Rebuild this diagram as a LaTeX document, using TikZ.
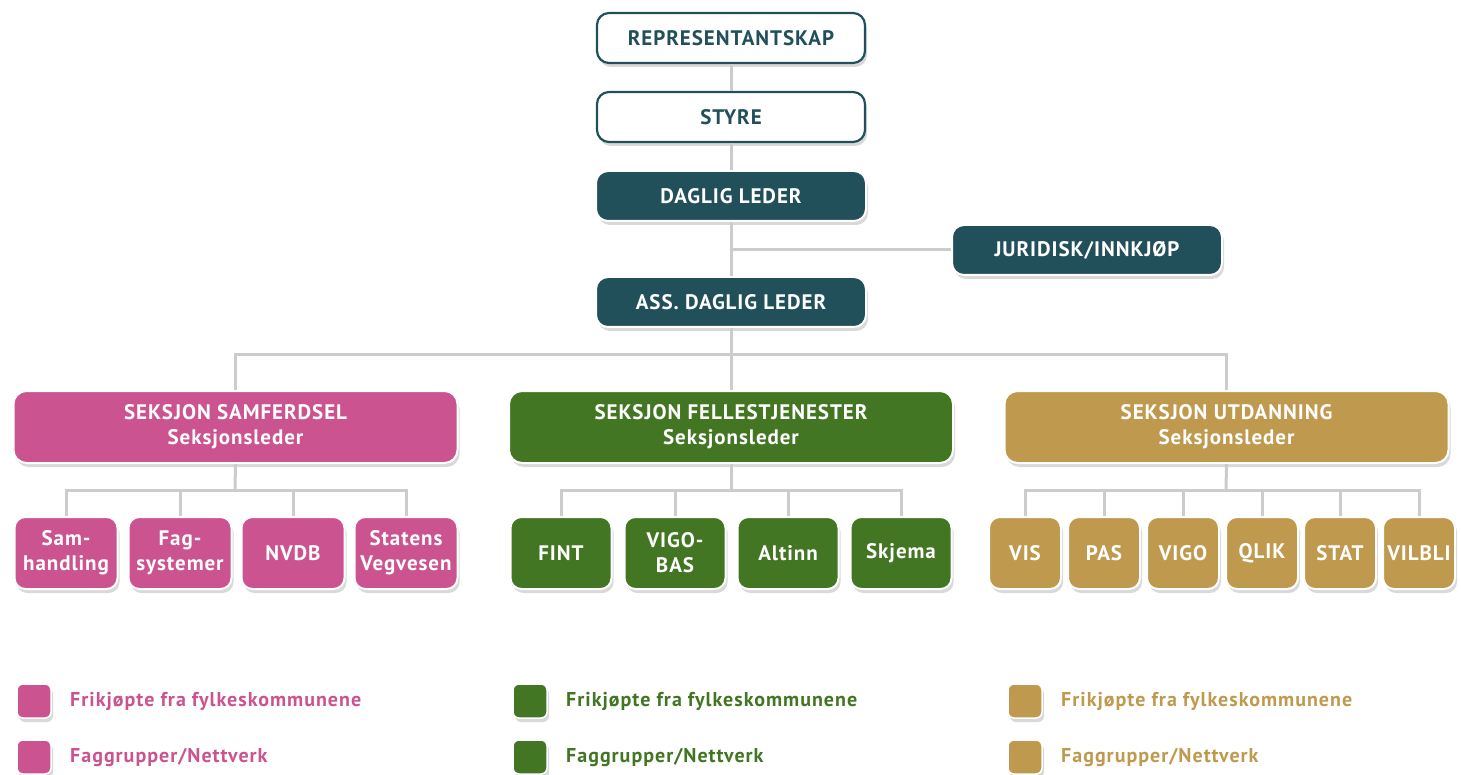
\documentclass[tikz,border=0pt]{standalone}
\usepackage{fontspec}
\setmainfont{PT Sans}
\newfontfamily\wideb[LetterSpace=4.5]{PT Sans}
\newfontfamily\widel[LetterSpace=5]{PT Sans}
\usetikzlibrary{shadows}
\definecolor{teal}{HTML}{22505A}
\definecolor{pinkc}{HTML}{CB5490}
\definecolor{greenc}{HTML}{437623}
\definecolor{goldc}{HTML}{BF9A4E}
\definecolor{linec}{HTML}{CCCCCC}
\tikzset{
  shad/.style={drop shadow={shadow xshift=2pt,shadow yshift=-4pt,opacity=0.25,fill=black!60}},
  topbox/.style={shad,draw=teal,line width=2.2pt,fill=white,rounded corners=12pt,minimum width=268pt,minimum height=50pt,inner sep=0pt,font=\wideb\fontsize{21}{25}\selectfont\bfseries,text=teal},
  leadbox/.style={shad,draw=white,line width=2pt,fill=teal,rounded corners=12pt,minimum width=270pt,minimum height=50pt,inner sep=0pt,font=\wideb\fontsize{21}{25}\selectfont\bfseries,text=white},
  secbox/.style={shad,draw=white,line width=2pt,rounded corners=13pt,minimum width=444pt,minimum height=72pt,inner sep=0pt,align=center,font=\wideb\fontsize{21}{25}\selectfont\bfseries,text=white},
  smallbox/.style={shad,draw=white,line width=2pt,rounded corners=11pt,minimum width=103pt,minimum height=72pt,inner sep=0pt,align=center,font=\wideb\fontsize{21}{25}\selectfont\bfseries,text=white},
  tinybox/.style={smallbox,minimum width=72pt},
  conn/.style={draw=linec,line width=3pt},
  legsq/.style={shad,draw=white,line width=1.5pt,rounded corners=6pt,minimum width=34pt,minimum height=34pt,inner sep=0pt},
  legtxt/.style={anchor=west,inner sep=0pt,font=\widel\fontsize{20}{24}\selectfont\bfseries}
}
\begin{document}
\begin{tikzpicture}[x=1pt,y=-1pt]
\useasboundingbox (0,0) rectangle (1461,775);
\coordinate (bus0) at (731,355);
\coordinate (busS) at (235,490);
\coordinate (busF) at (731,490);
\coordinate (busU) at (1226,490);
% top nodes
\node[topbox] (rep) at (731,38) {REPRESENTANTSKAP};
\node[topbox] (sty) at (731,117) {STYRE};
\node[leadbox] (dl) at (731,196) {DAGLIG LEDER};
\node[leadbox] (jur) at (1087,250) {JURIDISK/INNKJØP};
\node[leadbox] (ass) at (731,302) {ASS. DAGLIG LEDER};
% sections
\node[secbox,fill=pinkc] (sam) at (235.5,427) {SEKSJON SAMFERDSEL\\Seksjonsleder};
\node[secbox,fill=greenc] (fel) at (731,427) {SEKSJON FELLESTJENESTER\\Seksjonsleder};
\node[secbox,fill=goldc] (utd) at (1226.5,427) {SEKSJON UTDANNING\\Seksjonsleder};
% samferdsel subs
\node[smallbox,fill=pinkc] (s1) at (66,553) {Sam-\\handling};
\node[smallbox,fill=pinkc] (s2) at (180,553) {Fag-\\systemer};
\node[smallbox,fill=pinkc] (s3) at (293,553) {NVDB};
\node[smallbox,fill=pinkc] (s4) at (406,553) {Statens\\Vegvesen};
% fellestjenester subs
\node[smallbox,fill=greenc,minimum width=101pt] (f1) at (561,553) {FINT};
\node[smallbox,fill=greenc,minimum width=101pt] (f2) at (675,553) {VIGO-\\BAS};
\node[smallbox,fill=greenc,minimum width=101pt] (f3) at (788,553) {Altinn};
\node[smallbox,fill=greenc,minimum width=101pt] (f4) at (901,553) {Skjema};
% utdanning subs
\node[tinybox,fill=goldc] (u1) at (1025,553) {VIS};
\node[tinybox,fill=goldc] (u2) at (1104,553) {PAS};
\node[tinybox,fill=goldc] (u3) at (1183,553) {VIGO};
\node[tinybox,fill=goldc] (u4) at (1262,553) {QLIK};
\node[tinybox,fill=goldc] (u5) at (1340,553) {STAT};
\node[tinybox,fill=goldc] (u6) at (1419,553) {VILBLI};
% connectors
\draw[conn] (rep.south) -- (sty.north);
\draw[conn] (sty.south) -- (dl.north);
\draw[conn] (dl.south) -- (ass.north);
\draw[conn] (jur.west) -- (jur.west -| dl.south);
\draw[conn] (ass.south) -- (bus0);
\draw[conn] (bus0) -| (sam.north);
\draw[conn] (bus0) -| (utd.north);
\draw[conn] (bus0) -- (fel.north);
\draw[conn] (sam.south) -- (busS);
\draw[conn] (busS) -| (s1.north);
\draw[conn] (busS) -| (s2.north);
\draw[conn] (busS) -| (s3.north);
\draw[conn] (busS) -| (s4.north);
\draw[conn] (fel.south) -- (busF);
\draw[conn] (busF) -| (f1.north);
\draw[conn] (busF) -| (f2.north);
\draw[conn] (busF) -| (f3.north);
\draw[conn] (busF) -| (f4.north);
\draw[conn] (utd.south) -- (busU);
\draw[conn] (busU) -| (u1.north);
\draw[conn] (busU) -| (u2.north);
\draw[conn] (busU) -| (u3.north);
\draw[conn] (busU) -| (u4.north);
\draw[conn] (busU) -| (u5.north);
\draw[conn] (busU) -| (u6.north);
% legend
\node[legsq,fill=pinkc] (lp1) at (34,701) {};
\node[legsq,fill=pinkc] (lp2) at (34,757) {};
\node[legtxt,text=pinkc] (tp1) at (70,701) {Frikjøpte fra fylkeskommunene};
\node[legtxt,text=pinkc] (tp2) at (70,757) {Faggrupper/Nettverk};
\node[legsq,fill=greenc] (lg1) at (530,701) {};
\node[legsq,fill=greenc] (lg2) at (530,757) {};
\node[legtxt,text=greenc] (tg1) at (566,701) {Frikjøpte fra fylkeskommunene};
\node[legtxt,text=greenc] (tg2) at (566,757) {Faggrupper/Nettverk};
\node[legsq,fill=goldc] (lo1) at (1025,701) {};
\node[legsq,fill=goldc] (lo2) at (1025,757) {};
\node[legtxt,text=goldc] (to1) at (1061,701) {Frikjøpte fra fylkeskommunene};
\node[legtxt,text=goldc] (to2) at (1061,757) {Faggrupper/Nettverk};
\end{tikzpicture}
\end{document}
